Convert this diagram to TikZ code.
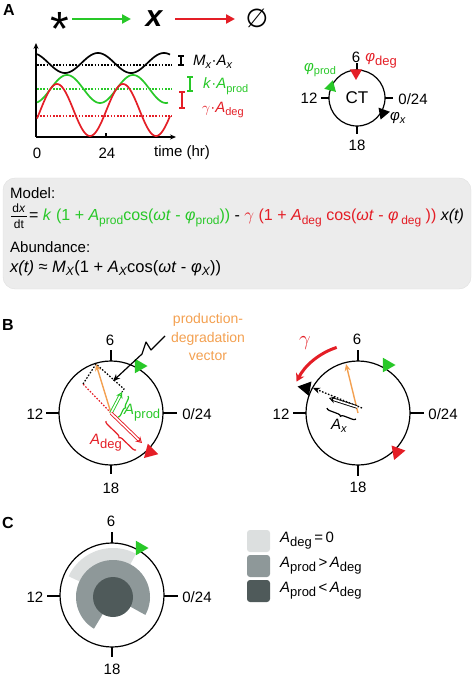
\documentclass[tikz,border=0pt]{standalone}
\usepackage{fontspec}
\setmainfont{Liberation Sans}
\newfontfamily\dejavu{DejaVu Sans}
\usetikzlibrary{arrows.meta,shapes.geometric,decorations.pathreplacing}
\definecolor{cgreen}{RGB}{40,200,40}
\definecolor{cred}{RGB}{228,30,38}
\definecolor{corange}{RGB}{243,160,80}
\definecolor{cbox}{RGB}{236,236,236}
\definecolor{glight}{RGB}{220,223,223}
\definecolor{gmid}{RGB}{142,152,153}
\definecolor{gdark}{RGB}{79,90,90}
\newcommand\sbs[1]{\raisebox{-0.45ex}{\fontsize{11}{11}\selectfont #1}}
\newcommand\sbb[1]{\raisebox{-0.5ex}{\fontsize{13}{13}\selectfont #1}}
\newcommand\sbe[1]{\raisebox{-0.45ex}{\fontsize{12}{12}\selectfont #1}}
\begin{document}
\begin{tikzpicture}[x=1pt,y=-1pt,
  every node/.style={inner sep=0pt,font=\fontsize{15}{18}\selectfont},
  lbl/.style={font=\fontsize{16}{18}\selectfont\bfseries},
  tri/.style={regular polygon,regular polygon sides=3,minimum size=14pt,inner sep=0pt},
  trib/.style={tri,minimum size=17pt},
  ring/.style={line width=1.2pt},
  tick/.style={line width=1.2pt},
  dotl/.style={line width=1.5pt,dash pattern=on 1.6pt off 1.6pt},
  curve/.style={line width=1.7pt},
  dbl/.style={line width=0.9pt,double=white,double distance=1.6pt},
]
\useasboundingbox (0,0) rectangle (474,676);

% ---------------- Panel A ----------------
\node[lbl] (LA) at (9,10) {A};
\node[font=\fontsize{48}{48}\selectfont] (star) at (60,29) {*};
\node[font=\fontsize{30}{30}\selectfont\bfseries\itshape] (xx) at (154,19) {x};
\node[font=\dejavu\fontsize{26}{26}\selectfont] (empty) at (257,18) {∅};
\coordinate (a1s) at (72,19); \coordinate (a1e) at (131,19);
\coordinate (a2s) at (175,19); \coordinate (a2e) at (235,19);
\draw[cgreen,line width=2.4pt,-{Triangle[length=9pt,width=9pt]}] (a1s) -- (a1e);
\draw[cred,line width=2.4pt,-{Triangle[length=9pt,width=9pt]}] (a2s) -- (a2e);

% graph axes
\coordinate (O) at (36,137); \coordinate (Ytop) at (36,43); \coordinate (Xend) at (176,137);
\coordinate (t24) at (106,137); \coordinate (t24b) at (106,133);
\draw[line width=1.2pt,-{Stealth[length=6pt,width=5pt]}] (O) -- (Ytop);
\draw[line width=1.2pt,-{Stealth[length=6pt,width=5pt]}] (O) -- (Xend);
\draw[line width=1.2pt] (t24) -- (t24b);
\node (l0) at (37,153) {0};
\node (l24) at (107,153) {24};
\node (ltime) at (182,153) {time (hr)};

% dotted means
\draw[dotl] (37,65) -- (172,65);
\draw[dotl,cgreen] (37,89) -- (172,89);
\draw[dotl,cred] (37,116) -- (172,116);
% curves
\draw[curve] plot[domain=37:170,samples=100,smooth] (\x,{63+10*cos(5.4545*(\x-65))});
\draw[curve,cgreen] plot[domain=37:168,samples=100,smooth] (\x,{89-14*cos(5.4545*(\x-67))});
\draw[curve,cred] plot[domain=37:170,samples=100,smooth] (\x,{110-26*cos(5.4545*(\x-57))});

% brackets
\draw[line width=1.3pt] (178,56) -- (184,56) (181,56) -- (181,65) (178,65) -- (184,65);
\draw[line width=1.3pt,cgreen] (187,77) -- (193,77) (190,77) -- (190,91) (187,91) -- (193,91);
\draw[line width=1.3pt,cred] (179,92) -- (185,92) (182,92) -- (182,108) (179,108) -- (185,108);
\node[anchor=west] (mxax) at (193,62) {\textit{M}\sbs{\textit{x}}·\textit{A}\sbs{\textit{x}}};
\node[anchor=west,text=cgreen] (kap) at (203,86) {\textit{k}·\textit{A}\sbs{prod}};
\node[anchor=west,text=cred] (gad) at (202,110) {$\gamma$·\textit{A}\sbs{deg}};

% CT clock
\coordinate (CA) at (357,98);
\draw[ring] (CA) circle[radius=28pt];
\draw[tick] (385,98) -- (393,98);
\draw[tick] (329,98) -- (321,98);
\draw[tick] (357,126) -- (357,134);
\draw[tick] (357,70) -- (357,63);
\node (ct) at (357,98) {\fontsize{17}{17}\selectfont CT};
\node (ca6) at (356,57) {6};
\node (ca12) at (309,98) {12};
\node (ca0) at (413,99) {0/24};
\node (ca18) at (357,145) {18};
\node[tri,fill=cred,rotate=180] (trA1) at (356,73) {};
\node[tri,fill=cgreen,rotate=-15] (trA2) at (331,87) {};
\node[tri,fill=black,rotate=160] (trA3) at (383,113) {};
\node[text=cred] (phdeg) at (381,61) {\textit{φ}\sbb{deg}};
\node[text=cgreen] (phprod) at (320,70) {\textit{φ}\sbs{prod}};
\node (phx) at (398,118) {\textit{φ}\sbs{\textit{x}}};

% Model box
\draw[fill=cbox,draw=black!12,rounded corners=12pt] (3,178) rectangle (471,289);
\node[anchor=west] (mdl) at (10,193) {Model:};
\node[font=\fontsize{12}{12}\selectfont] (dx) at (19,208) {d\textit{x}};
\node[font=\fontsize{12}{12}\selectfont] (dt) at (19,224) {dt};
\draw[line width=0.8pt] (11,216) -- (27,216);
\node[anchor=west,font=\fontsize{16}{18}\selectfont] (eq) at (29,218) {= \textcolor{cgreen}{\textit{k} (1 + \textit{A}\sbe{prod}cos(\textit{ωt} - \textit{φ}\sbe{prod}))} - \textcolor{cred}{$\gamma$ (1 + \textit{A}\sbe{deg} cos(\textit{ωt} - \textit{φ}\,\sbe{deg} ))} \textit{x(t)}};
\node[anchor=west] (abd) at (10,247) {Abundance:};
\node[anchor=west,font=\fontsize{16.5}{18}\selectfont] (abeq) at (10,268) {\textit{x(t)} ≈ \textit{M}\sbe{\textit{X}}(1 + \textit{A}\sbe{\textit{X}}cos(\textit{ωt} - \textit{φ}\sbe{\textit{X}}))};

% ---------------- Panel B ----------------
\node[lbl] (LB) at (8,325) {B};
% left clock
\coordinate (CB1) at (111,413);
\draw[ring] (CB1) circle[radius=52pt];
\draw[tick] (111,361) -- (111,350);
\draw[tick] (111,465) -- (111,474);
\draw[tick] (59,413) -- (46,413);
\draw[tick] (163,413) -- (177,413);
\node (b6) at (110,340) {6};
\node (b12) at (35,414) {12};
\node (b0) at (197,414) {0/24};
\node (b18) at (111,488) {18};
\coordinate (T1) at (96,364);
\coordinate (nR1) at (83,384);
\coordinate (Gc1) at (124,389);
\coordinate (G1) at (122,392);
\coordinate (R1) at (142,443);
\draw[dotl,line width=1.2pt,cred] (CB1) -- (nR1);
\draw[dotl,line width=1.2pt] (nR1) -- (T1) -- (Gc1) -- (G1);
\draw[corange,line width=1.4pt,-{Stealth[length=7pt,width=6pt]}] (CB1) -- (T1);
\draw[dbl,cgreen,-{Stealth[length=6pt,width=7pt,open]}] (CB1) -- (G1);
\draw[dbl,cred,-{Stealth[length=6pt,width=7pt,open]}] (CB1) -- (R1);
\draw[cgreen,line width=1.2pt,decorate,decoration={brace,amplitude=3pt}] (128,396) -- (118,417);
\draw[cred,line width=1.2pt,decorate,decoration={brace,amplitude=3pt}] (136,450) -- (106,421);
\node[anchor=west,text=cgreen] (aprod) at (124,413) {\textit{A}\sbb{prod}};
\node[anchor=west,text=cred] (adeg) at (90,443) {\textit{A}\sbb{deg}};
\node[trib,fill=cgreen,rotate=-90] (trB1) at (139,366) {};
\node[trib,fill=cred,rotate=-105] (trB2) at (150,452) {};
% zigzag pointer
\coordinate (z0) at (165,336); \coordinate (z1) at (151,350); \coordinate (z2) at (146,342);
\coordinate (z3) at (142,354); \coordinate (z4) at (113,381);
\draw[line width=1.2pt,line join=round,-{Stealth[length=7pt,width=6pt]}] (z0) -- (z1) -- (z2) -- (z3) -- (z4);
\node[text=corange,align=center,font=\fontsize{14}{18.5}\selectfont] (pdv) at (208,337) {production-\\degradation\\vector};

% right clock
\coordinate (CB2) at (358,413);
\draw[ring] (CB2) circle[radius=52pt];
\draw[tick] (358,361) -- (358,350);
\draw[tick] (358,465) -- (358,476);
\draw[tick] (306,413) -- (293,413);
\draw[tick] (410,413) -- (424,413);
\node (c6) at (357,339) {6};
\node (c12) at (281,414) {12};
\node (c0) at (443,414) {0/24};
\node (c18) at (358,487) {18};
\coordinate (T2) at (346,364);
\coordinate (Xd0) at (362,408); \coordinate (Xd1) at (313,388);
\coordinate (Xa0) at (357,407); \coordinate (Xa1) at (329,398);
\draw[corange,line width=1.4pt,-{Stealth[length=7pt,width=6pt]}] (CB2) -- (T2);
\draw[dotl,line width=1.3pt,-{Stealth[length=7pt,width=6pt]}] (Xd0) -- (Xd1);
\draw[dbl,-{Stealth[length=6pt,width=7pt,open]}] (Xa0) -- (Xa1);
\draw[line width=1.2pt,decorate,decoration={brace,amplitude=3pt}] (356,419) -- (327,408);
\node (ax) at (339,426) {\textit{A}\sbs{\textit{x}}};
\node[trib,fill=cgreen,rotate=-90] (trC1) at (387,365) {};
\node[trib,fill=cred,rotate=-80] (trC2) at (397,452) {};
\node[trib,fill=black,rotate=80] (trC3) at (306,388) {};
\coordinate (g0) at (336.7,347.4);
\draw[cred,line width=3pt,-{Stealth[length=8pt,width=9pt]}] (g0) arc[start angle=-108,end angle=-153,radius=69];
\node[text=cred] (gam) at (305,343) {\fontsize{21}{21}\selectfont$\gamma$};

% ---------------- Panel C ----------------
\node[lbl] (LC) at (8,523) {C};
\coordinate (CC) at (112,595);
\coordinate (CCi) at (113,597);
\fill[glight] (CCi) -- ++(-62:49) arc[start angle=-62,end angle=-155,radius=49] -- cycle;
\fill[gmid] (CCi) -- ++(29:37) arc[start angle=29,end angle=-239,radius=37] -- cycle;
\fill[gdark] (CCi) circle[radius=20pt];
\draw[ring] (CC) circle[radius=52pt];
\draw[tick] (112,543) -- (112,532);
\draw[tick] (112,647) -- (112,657);
\draw[tick] (60,596) -- (47,596);
\draw[tick] (164,596) -- (178,596);
\node (d6) at (111,521) {6};
\node (d12) at (35,597) {12};
\node (d0) at (197,597) {0/24};
\node (d18) at (112,669) {18};
\node[trib,fill=cgreen,rotate=-90] (trD1) at (140,548) {};

% legend
\fill[glight,rounded corners=3pt] (247,530) rectangle (270,552);
\fill[gmid,rounded corners=3pt] (247,555) rectangle (270,577);
\fill[gdark,rounded corners=3pt] (247,580) rectangle (270,602);
\node[anchor=west] (lg1) at (280,541) {\textit{A}\sbb{deg}\,=\,0};
\node[anchor=west] (lg2) at (280,566) {\textit{A}\sbb{prod}\,>\,\textit{A}\sbb{deg}};
\node[anchor=west] (lg3) at (280,591) {\textit{A}\sbb{prod}\,<\,\textit{A}\sbb{deg}};
\end{tikzpicture}
\end{document}
